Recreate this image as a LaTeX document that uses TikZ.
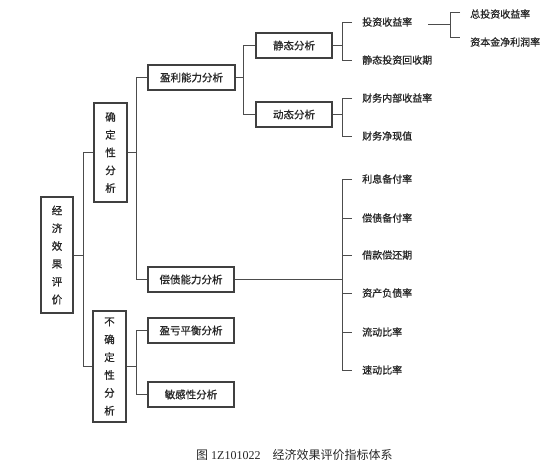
\documentclass[tikz,border=0pt]{standalone}
\usepackage{fontspec}
\setmainfont{Liberation Serif}
\newfontfamily\cjk[FakeBold=0.8]{Noto Sans CJK SC}
\newfontfamily\cjkcap{Noto Sans CJK SC}
\begin{document}
\begin{tikzpicture}[x=1pt,y=-1pt,
  every node/.style={text=black!85},
  box/.style={draw=black!75,line width=1.1pt,inner sep=0pt,align=center,
    font={\cjk\fontsize{10.5}{12}\selectfont}},
  hbox/.style={box,minimum height=25pt},
  vbox/.style={box,font={\cjk\fontsize{10.5}{17.8}\selectfont}},
  leaf/.style={anchor=west,inner sep=0pt,font={\cjk\fontsize{10}{12}\selectfont}},
  conn/.style={draw=black!70,line width=0.8pt}]
\useasboundingbox (0,0) rectangle (554,468);
% boxes
\node[vbox,minimum width=32pt,minimum height=116pt] (jj) at (57,255) {经\\济\\效\\果\\评\\价};
\node[vbox,minimum width=33pt,minimum height=99pt] (qd) at (110.5,152.5) {确\\定\\性\\分\\析};
\node[vbox,minimum width=33pt,minimum height=111pt] (bqd) at (109.5,366.5) {不\\确\\定\\性\\分\\析};
\node[hbox,minimum width=87pt] (yl) at (191.5,77.5) {盈利能力分析};
\node[hbox,minimum width=76pt] (jt) at (294,45.5) {静态分析};
\node[hbox,minimum width=76pt] (dt) at (294,114.5) {动态分析};
\node[hbox,minimum width=86pt] (cz) at (191,279.5) {偿债能力分析};
\node[hbox,minimum width=86pt] (yk) at (191,330.5) {盈亏平衡分析};
\node[hbox,minimum width=86pt] (mg) at (191,394.5) {敏感性分析};
% leaves
\node[leaf] (tz) at (362,22) {投资收益率};
\node[leaf] (jh) at (362,60) {静态投资回收期};
\node[leaf] (nb) at (362,98) {财务内部收益率};
\node[leaf] (jx) at (362,136) {财务净现值};
\node[leaf] (lx) at (362,179) {利息备付率};
\node[leaf] (cb) at (362,218) {偿债备付率};
\node[leaf] (jk) at (362,255) {借款偿还期};
\node[leaf] (zc) at (362,293) {资产负债率};
\node[leaf] (ld) at (362,332) {流动比率};
\node[leaf] (sd) at (362,370) {速动比率};
\node[leaf] (zt) at (470,14) {总投资收益率};
\node[leaf] (zb) at (470,42) {资本金净利润率};
% bus coordinates
\coordinate (b1) at (83,0);
\coordinate (b2) at (136,0);
\coordinate (b3) at (243,0);
\coordinate (b4) at (342,0);
% connectors
\draw[conn] (jj.east) -- (jj.east -| b1);
\draw[conn] (qd.west) -- (qd.west -| b1) -- (bqd.west -| b1) -- (bqd.west);
\draw[conn] (qd.east) -- (qd.east -| b2);
\draw[conn] (yl.west) -- (yl.west -| b2) -- (cz.west -| b2) -- (cz.west);
\draw[conn] (bqd.east) -- (bqd.east -| b2);
\draw[conn] (yk.west) -- (yk.west -| b2) -- (mg.west -| b2) -- (mg.west);
\draw[conn] (yl.east) -- (yl.east -| b3);
\draw[conn] (jt.west) -- (jt.west -| b3) -- (dt.west -| b3) -- (dt.west);
\draw[conn] (jt.east) -- (jt.east -| b4);
\draw[conn] ([xshift=-10pt]tz.west) -- (tz.west -| b4) -- (jh.west -| b4) -- ([xshift=-10pt]jh.west);
\draw[conn] (dt.east) -- (dt.east -| b4);
\draw[conn] ([xshift=-10pt]nb.west) -- (nb.west -| b4) -- (jx.west -| b4) -- ([xshift=-10pt]jx.west);
\draw[conn] (cz.east) -- (cz.east -| b4);
\draw[conn] ([xshift=-10pt]lx.west) -- (lx.west -| b4) -- (sd.west -| b4) -- ([xshift=-10pt]sd.west);
\foreach \n in {cb,jk,zc,ld} \draw[conn] (\n.west -| b4) -- ([xshift=-10pt]\n.west);
\coordinate (b5) at (450,24);
\draw[conn] ([xshift=16pt]tz.east |- b5) -- (b5);
\draw[conn] ([xshift=-10pt]zt.west |- 0,12) -- (450,12) -- (450,37) -- ([xshift=-10pt]zb.west |- 0,37);
% caption
\node[font={\fontsize{12}{14}\selectfont},anchor=west,inner sep=0pt] (cap) at (196,455)
  {{\cjkcap 图} 1Z101022\hspace{12pt}{\cjkcap 经济效果评价指标体系}};
\end{tikzpicture}
\end{document}
